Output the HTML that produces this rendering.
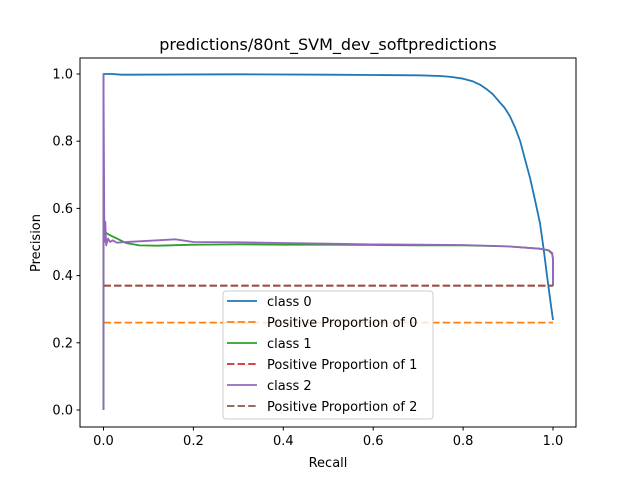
<!DOCTYPE html>
<html><head><meta charset="utf-8"><style>
body{margin:0;background:#fff}
svg text{font-family:"DejaVu Sans","Liberation Sans",sans-serif;fill:#000}
</style></head><body>
<svg id="chart" width="640" height="480" xmlns="http://www.w3.org/2000/svg">
<rect width="640" height="480" fill="#fff"/>
<text x="328" y="50" font-size="16" text-anchor="middle">predictions/80nt_SVM_dev_softpredictions</text>
<g id="plot"></g>
<rect x="80" y="58" width="496" height="369" fill="none" stroke="#000" stroke-width="1"/>
<g id="ticks"></g>
<text x="328" y="467" font-size="13" text-anchor="middle">Recall</text>
<text transform="translate(40,243) rotate(-90)" font-size="13" text-anchor="middle">Precision</text>
<g id="legend"></g>
</svg>
<script>
const xTicks=[0,0.2,0.4,0.6,0.8,1.0];
const yTicks=[0,0.2,0.4,0.6,0.8,1.0];
const class0Recall=[0,0,0.02,0.04,0.3,0.5,0.6,0.7,0.75,0.775,0.8,0.822,0.838,0.852,0.866,0.88,0.892,0.904,0.916,0.927,0.938,0.949,0.96,0.971,0.979,0.986,0.993,1.0];
const class0Prec=[0,1.0,1.0,0.998,0.999,0.998,0.997,0.996,0.994,0.991,0.986,0.978,0.968,0.955,0.94,0.918,0.9,0.875,0.84,0.8,0.745,0.69,0.625,0.556,0.48,0.407,0.335,0.268];
const class1Recall=[0,0,0.002,0.004,0.008,0.015,0.03,0.05,0.08,0.12,0.2,0.3,0.4,0.5,0.6,0.7,0.8,0.9,0.97,0.99,0.998,1.0,1.0];
const class1Prec=[0,0.7,0.52,0.53,0.525,0.52,0.51,0.497,0.49,0.489,0.492,0.493,0.492,0.492,0.491,0.49,0.49,0.487,0.48,0.475,0.465,0.45,0.37];
const class2Recall=[0,0,0.002,0.004,0.006,0.01,0.015,0.02,0.03,0.05,0.08,0.12,0.16,0.2,0.3,0.4,0.5,0.6,0.7,0.8,0.9,0.97,0.99,0.998,1.0,1.0];
const class2Prec=[0,1.0,0.5,0.56,0.49,0.51,0.5,0.505,0.498,0.5,0.502,0.505,0.508,0.5,0.499,0.497,0.495,0.493,0.492,0.491,0.487,0.48,0.476,0.468,0.45,0.37];
const posProp=[0.26,0.37,0.37];
const xS=v=>103.5+v*449.5, yS=v=>410-v*336;
const NS="http://www.w3.org/2000/svg";
function mk(t,a,p){const e=document.createElementNS(NS,t);for(const k in a)e.setAttribute(k,a[k]);p.appendChild(e);return e;}
const plot=document.getElementById('plot'), ticks=document.getElementById('ticks'), lg=document.getElementById('legend');
xTicks.forEach(v=>{
  const l=mk('line',{x1:xS(v),x2:xS(v),y1:427,y2:430.5,stroke:'#000'},ticks);
  
  
  const t=mk('text',{x:xS(v),y:445,'font-size':13,'text-anchor':'middle'},ticks);t.textContent=v.toFixed(1);
  
  
});
yTicks.forEach(v=>{
  const l=mk('line',{x1:76.5,x2:80,y1:yS(v),y2:yS(v),stroke:'#000'},ticks);
  
  
  const t=mk('text',{x:73,y:yS(v)+4.5,'font-size':13,'text-anchor':'end'},ticks);t.textContent=v.toFixed(1);
  
  
});
function line(xs,ys,c,name){
  const d=xs.map((x,i)=>(i?'L':'M')+xS(x).toFixed(1)+','+yS(ys[i]).toFixed(1)).join('');
  const p=mk('path',{d:d,fill:'none',stroke:c,'stroke-width':1.8,'stroke-linejoin':'round'},plot);
  
  
}
function hline(v,c,name){
  const p=mk('line',{x1:xS(0),x2:xS(1),y1:yS(v),y2:yS(v),stroke:c,'stroke-width':1.8,'stroke-dasharray':'7.4,3.2'},plot);
  
  
}
line(class0Recall,class0Prec,'#1f77b4','class-0-curve');
hline(posProp[0],'#ff7f0e','positive-proportion-0');
line(class1Recall,class1Prec,'#2ca02c','class-1-curve');
hline(posProp[1],'#d62728','positive-proportion-1');
line(class2Recall,class2Prec,'#9467bd','class-2-curve');
hline(posProp[2],'#8c564b','positive-proportion-2');
const box=mk('rect',{x:223,y:291,width:210,height:128,rx:3,fill:'#fff','fill-opacity':0.8,stroke:'#ccc'},lg);


const entries=[['class 0','#1f77b4',0],['Positive Proportion of 0','#ff7f0e',1],['class 1','#2ca02c',0],['Positive Proportion of 1','#d62728',1],['class 2','#9467bd',0],['Positive Proportion of 2','#8c564b',1]];
entries.forEach((e,i)=>{
  const y=301+i*21;
  const g=mk('g',{},lg);
  
  
  const a={x1:227,x2:257,y1:y,y2:y,stroke:e[1],'stroke-width':1.8};
  if(e[2])a['stroke-dasharray']='7.4,3.2';
  mk('line',a,g);
  const t=mk('text',{x:267,y:y+5,'font-size':13},g);t.textContent=e[0];
});
</script>
</body></html>
